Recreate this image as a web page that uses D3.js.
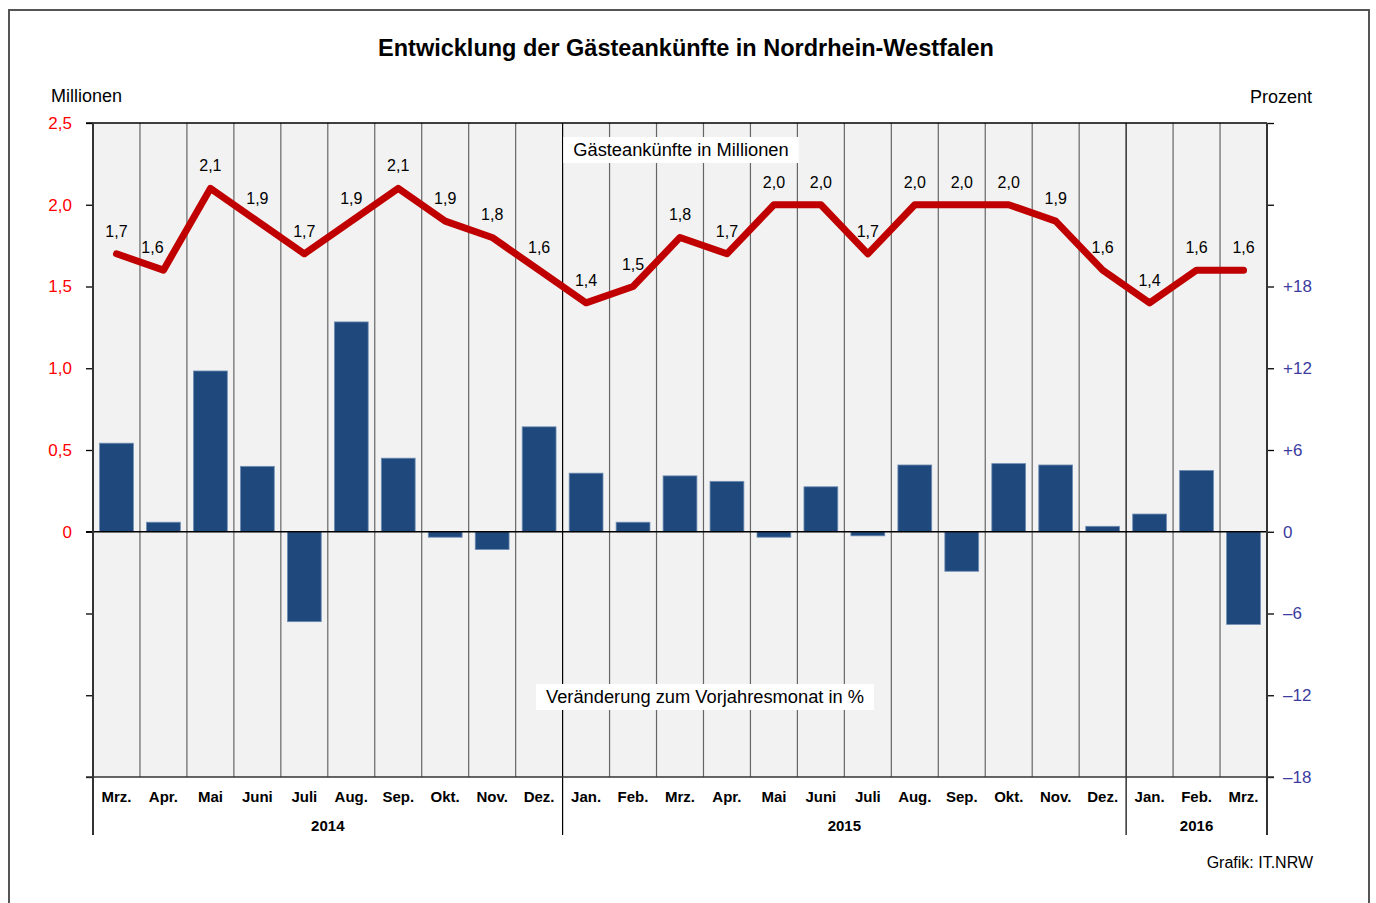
<!DOCTYPE html>
<html>
<head>
<meta charset="utf-8">
<script src="https://cdn.jsdelivr.net/npm/d3@7"></script>
<style>
  body { margin: 0; background: #fff; }
  text { font-family: "Liberation Sans", Arial, sans-serif; }
</style>
</head>
<body>
<div id="chart"></div>
<script>
const months = ['Mrz.', 'Apr.', 'Mai', 'Juni', 'Juli', 'Aug.', 'Sep.', 'Okt.', 'Nov.', 'Dez.',
    'Jan.', 'Feb.', 'Mrz.', 'Apr.', 'Mai', 'Juni', 'Juli', 'Aug.', 'Sep.', 'Okt.', 'Nov.', 'Dez.',
    'Jan.', 'Feb.', 'Mrz.'];
const years = [
    {label: '2014', start: 0, end: 10},
    {label: '2015', start: 10, end: 22},
    {label: '2016', start: 22, end: 25}
];
// Gästeankünfte in Millionen
const arrivals = [1.7, 1.6, 2.1, 1.9, 1.7, 1.9, 2.1, 1.9, 1.8, 1.6,
    1.4, 1.5, 1.8, 1.7, 2.0, 2.0, 1.7, 2.0, 2.0, 2.0, 1.9, 1.6,
    1.4, 1.6, 1.6];
// Veränderung zum Vorjahresmonat in %
const change = [6.5, 0.7, 11.8, 4.8, -6.6, 15.4, 5.4, -0.4, -1.3, 7.7,
    4.3, 0.7, 4.1, 3.7, -0.4, 3.3, -0.3, 4.9, -2.9, 5.0, 4.9, 0.4,
    1.3, 4.5, -6.8];
const leftTicks = [-1.5, -1, -0.5, 0, 0.5, 1, 1.5, 2, 2.5];
const rightTicks = [-18, -12, -6, 0, 6, 12, 18, 24, 30];

const width = 1376;
const height = 903;
const plotLeft = 93, plotRight = 1267, plotTop = 123, plotBottom = 777;

const svg = d3.select('#chart')
    .append('svg')
    .attr('width', width)
    .attr('height', height);

// outer frame
svg.append('path')
    .attr('d', 'M9,903 V10 H1369 V903')
    .attr('fill', 'none')
    .attr('stroke', '#555')
    .attr('stroke-width', 2);

svg.append('text')
    .attr('x', 686).attr('y', 56)
    .attr('text-anchor', 'middle')
    .attr('font-size', 23.5).attr('font-weight', 'bold')
    .text('Entwicklung der Gästeankünfte in Nordrhein-Westfalen');

svg.append('text').attr('x', 51).attr('y', 102).attr('font-size', 18).text('Millionen');
svg.append('text').attr('x', 1312).attr('y', 103).attr('font-size', 18)
    .attr('text-anchor', 'end').text('Prozent');

const x = d3.scaleBand()
    .domain(d3.range(months.length))
    .range([plotLeft, plotRight])
    .paddingInner(0.28)
    .paddingOuter(0.14);

const xEdge = d3.scaleLinear().domain([0, months.length]).range([plotLeft, plotRight]);

const yL = d3.scaleLinear().domain([-1.5, 2.5]).range([plotBottom, plotTop]);
const yR = d3.scaleLinear().domain([-18, 30]).range([plotBottom, plotTop]);

// plot background
svg.append('rect')
    .attr('x', plotLeft).attr('y', plotTop)
    .attr('width', plotRight - plotLeft).attr('height', plotBottom - plotTop)
    .attr('fill', '#f2f2f2');

// month separators
svg.append('g')
    .selectAll('line')
    .data(d3.range(1, months.length))
    .enter()
    .append('line')
    .attr('x1', d => xEdge(d)).attr('x2', d => xEdge(d))
    .attr('y1', plotTop).attr('y2', plotBottom)
    .attr('stroke', d => years.some(y => y.start === d) ? '#000' : '#666')
    .attr('stroke-width', 1.2);

// year separators below axis
svg.append('g')
    .selectAll('line')
    .data([0, 10, 22, 25])
    .enter()
    .append('line')
    .attr('x1', d => xEdge(d)).attr('x2', d => xEdge(d))
    .attr('y1', plotBottom).attr('y2', 835)
    .attr('stroke', d => (d === 0 || d === 25) ? '#555' : '#000')
    .attr('stroke-width', d => (d === 0 || d === 25) ? 2 : 1.2);

// bars
svg.append('g')
    .selectAll('rect')
    .data(change)
    .enter()
    .append('rect')
    .attr('x', (d, i) => x(i))
    .attr('y', d => yR(Math.max(0, d)))
    .attr('width', x.bandwidth())
    .attr('height', d => Math.abs(yR(d) - yR(0)))
    .attr('fill', '#1f497d')
    .attr('stroke', '#6f8db3')
    .attr('stroke-width', 0.8);

// zero line and top line
svg.append('line')
    .attr('x1', plotLeft - 7).attr('x2', plotRight)
    .attr('y1', yL(0)).attr('y2', yL(0))
    .attr('stroke', '#000').attr('stroke-width', 1.3);
svg.append('line')
    .attr('x1', plotLeft - 7).attr('x2', plotRight)
    .attr('y1', plotTop).attr('y2', plotTop)
    .attr('stroke', '#000').attr('stroke-width', 1.3);

// left axis
const yAxisL = d3.axisLeft(yL)
    .tickValues(leftTicks)
    .tickSize(7)
    .tickPadding(14)
    .tickFormat(d => d < 0 ? '' : (d === 0 ? '0' : d3.format('.1f')(d).replace('.', ',')));
const gL = svg.append('g')
    .attr('transform', 'translate(' + plotLeft + ',0)')
    .call(yAxisL);
gL.select('.domain').remove();
gL.selectAll('.tick line').attr('stroke', '#000').attr('stroke-width', 1.3);
gL.selectAll('.tick text').attr('fill', '#ff0000').attr('font-size', 17)
    .attr('font-family', '"Liberation Sans", Arial, sans-serif');
svg.append('line')
    .attr('x1', plotLeft).attr('x2', plotLeft)
    .attr('y1', plotTop).attr('y2', 835)
    .attr('stroke', '#333').attr('stroke-width', 2);

// right axis
const yAxisR = d3.axisRight(yR)
    .tickValues(rightTicks)
    .tickSize(7)
    .tickPadding(9)
    .tickFormat(d => d > 18 ? '' : (d > 0 ? '+' + d : (d < 0 ? '\u2013' + Math.abs(d) : '0')));
const gR = svg.append('g')
    .attr('transform', 'translate(' + plotRight + ',0)')
    .call(yAxisR);
gR.select('.domain').remove();
gR.selectAll('.tick line').attr('stroke', '#000').attr('stroke-width', 1.3);
gR.selectAll('.tick text').attr('fill', '#3c3ca0').attr('font-size', 17)
    .attr('font-family', '"Liberation Sans", Arial, sans-serif');
svg.append('line')
    .attr('x1', plotRight).attr('x2', plotRight)
    .attr('y1', plotTop).attr('y2', 835)
    .attr('stroke', '#333').attr('stroke-width', 2);

// x axis baseline
svg.append('line')
    .attr('x1', plotLeft - 7).attr('x2', plotRight + 7)
    .attr('y1', plotBottom).attr('y2', plotBottom)
    .attr('stroke', '#333').attr('stroke-width', 1.5);

// month labels
svg.append('g')
    .selectAll('text')
    .data(months)
    .enter()
    .append('text')
    .attr('x', (d, i) => x(i) + x.bandwidth() / 2)
    .attr('y', 802)
    .attr('text-anchor', 'middle')
    .attr('font-size', 15).attr('font-weight', 'bold')
    .text(d => d);

// year labels
svg.append('g')
    .selectAll('text')
    .data(years)
    .enter()
    .append('text')
    .attr('x', d => (xEdge(d.start) + xEdge(d.end)) / 2)
    .attr('y', 831)
    .attr('text-anchor', 'middle')
    .attr('font-size', 15).attr('font-weight', 'bold')
    .text(d => d.label);

// annotation boxes
function labelBox(cx, cy, txt) {
    const g = svg.append('g');
    const t = g.append('text')
        .attr('x', cx).attr('y', cy + 6)
        .attr('text-anchor', 'middle')
        .attr('font-size', 18.3)
        .text(txt);
    const b = t.node().getBBox();
    g.insert('rect', 'text')
        .attr('x', b.x - 10).attr('y', cy - 13)
        .attr('width', b.width + 20).attr('height', 26)
        .attr('fill', '#fff');
}
labelBox(681, 150, 'Gästeankünfte in Millionen');
labelBox(705, 697, 'Veränderung zum Vorjahresmonat in %');

// line
const line = d3.line()
    .x((d, i) => x(i) + x.bandwidth() / 2)
    .y(d => yL(d));
svg.append('path')
    .datum(arrivals)
    .attr('d', line)
    .attr('fill', 'none')
    .attr('stroke', '#c00000')
    .attr('stroke-width', 7)
    .attr('stroke-linejoin', 'round')
    .attr('stroke-linecap', 'round');

// data labels
svg.append('g')
    .selectAll('text')
    .data(arrivals)
    .enter()
    .append('text')
    .attr('x', (d, i) => x(i) + x.bandwidth() / 2 + (i > 0 && arrivals[i - 1] > d && arrivals[i + 1] > d && i === 1 ? -11 : 0))
    .attr('y', d => yL(d) - 17)
    .attr('text-anchor', 'middle')
    .attr('font-size', 16)
    .text(d => d3.format('.1f')(d).replace('.', ','));

svg.append('text')
    .attr('x', 1313).attr('y', 868)
    .attr('text-anchor', 'end')
    .attr('font-size', 16)
    .text('Grafik: IT.NRW');
</script>
</body>
</html>
